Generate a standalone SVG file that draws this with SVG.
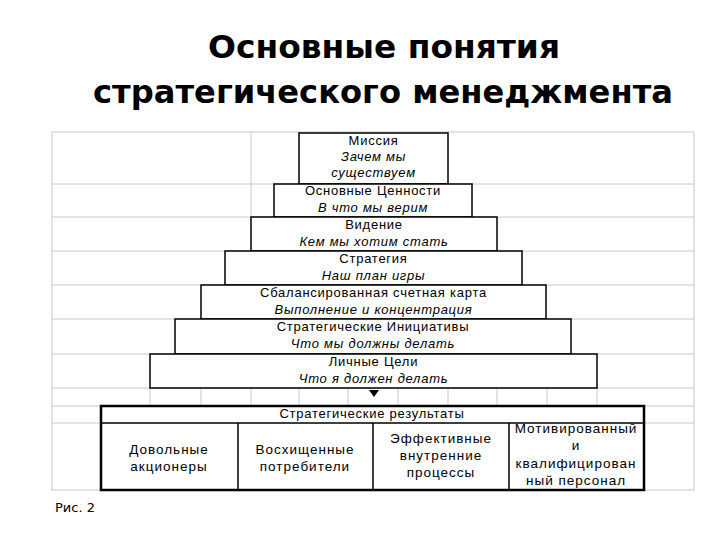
<svg xmlns="http://www.w3.org/2000/svg" width="720" height="540" viewBox="0 0 720 540">
<style>
.grid{stroke:#c8c8c8;stroke-width:1;fill:none}
.box{fill:#fff;stroke:#000;stroke-width:1.5}
.t{font-family:"Liberation Sans",Arial,sans-serif;font-size:13px;letter-spacing:0.75px;fill:#000;text-anchor:middle}
.b{font-size:13.5px;letter-spacing:1px}
.i{font-style:italic}
.title{font-family:"DejaVu Sans",Verdana,sans-serif;font-weight:bold;font-size:32px;fill:#000;text-anchor:middle}
</style>
<rect width="720" height="540" fill="#fff"/>
<g id="title">
<text class="title" x="384" y="58" textLength="352" lengthAdjust="spacingAndGlyphs">Основные понятия</text>
<text class="title" x="383" y="103" textLength="580" lengthAdjust="spacingAndGlyphs">стратегического менеджмента</text>
</g>
<g id="grid" class="grid">
<rect x="52" y="132" width="642" height="358"/>
<path d="M52 184H694M52 217H694M52 251H694M52 285H694M52 319H694M52 354H694M52 388H694M52 406H694M52 423H694"/>
<path d="M251 132V217M150 388V406M201 388V406M251 388V406M299 388V406M348 388V406M398 388V406M448 388V406M497 388V406M547 388V406M597 388V406"/>
</g>
<g id="mission">
<rect class="box" x="299" y="133" width="149" height="51"/>
<text class="t" x="373.5" y="145">Миссия</text>
<text class="t i" x="373.5" y="161">Зачем мы</text>
<text class="t i" x="373.5" y="177">существуем</text>
</g>
<g id="values">
<rect class="box" x="274" y="184" width="198" height="33"/>
<text class="t" x="373" y="195">Основные Ценности</text>
<text class="t i" x="373" y="212">В что мы верим</text>
</g>
<g id="vision">
<rect class="box" x="251" y="217" width="246" height="34"/>
<text class="t" x="374" y="229">Видение</text>
<text class="t i" x="374" y="246">Кем мы хотим стать</text>
</g>
<g id="strategy">
<rect class="box" x="225" y="251" width="297" height="34"/>
<text class="t" x="373.5" y="263">Стратегия</text>
<text class="t i" x="373.5" y="280">Наш план игры</text>
</g>
<g id="bsc">
<rect class="box" x="201" y="285" width="345" height="34"/>
<text class="t" x="373.5" y="297">Сбалансированная счетная карта</text>
<text class="t i" x="373.5" y="314">Выполнение и концентрация</text>
</g>
<g id="initiatives">
<rect class="box" x="175" y="319" width="396" height="35"/>
<text class="t" x="373" y="331">Стратегические Инициативы</text>
<text class="t i" x="373" y="348">Что мы должны делать</text>
</g>
<g id="goals">
<rect class="box" x="150" y="354" width="447" height="34"/>
<text class="t" x="373.5" y="366">Личные Цели</text>
<text class="t i" x="373.5" y="383">Что я должен делать</text>
</g>
<g id="connectors">
<path d="M369 390H379L374 397Z" fill="#000"/>
</g>
<g id="results">
<rect x="101" y="406" width="543" height="84" fill="#fff" stroke="#000" stroke-width="2.5"/>
<path d="M101 423H644M238 423V490M373 423V490M509 423V490" stroke="#000" stroke-width="1.5" fill="none"/>
<text class="t" x="372" y="418">Стратегические результаты</text>
</g>
<g id="shareholders">
<text class="t b" x="169" y="454">Довольные</text>
<text class="t b" x="169" y="471">акционеры</text>
</g>
<g id="customers">
<text class="t b" x="305" y="454">Восхищенные</text>
<text class="t b" x="305" y="471">потребители</text>
</g>
<g id="processes">
<text class="t b" x="441" y="443">Эффективные</text>
<text class="t b" x="441" y="460">внутренние</text>
<text class="t b" x="441" y="477">процессы</text>
</g>
<g id="staff">
<text class="t b" x="576" y="433">Мотивированный</text>
<text class="t b" x="576" y="450">и</text>
<text class="t b" x="576" y="468">квалифицирован</text>
<text class="t b" x="576" y="485">ный персонал</text>
</g>
<text x="55" y="512" font-family="'DejaVu Sans',Verdana,sans-serif" font-size="13" fill="#000">Рис. 2</text>
</svg>
